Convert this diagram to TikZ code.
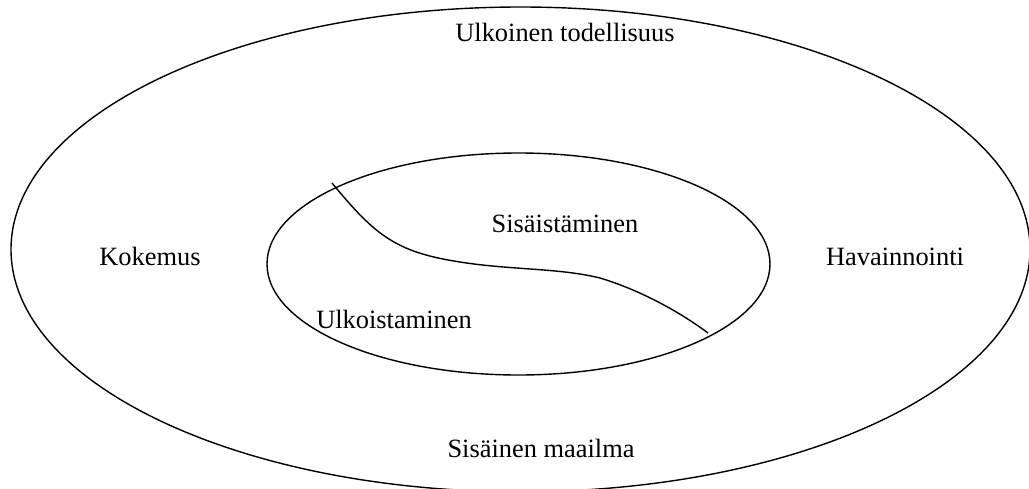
\documentclass[tikz,border=0pt]{standalone}
\usepackage{fontspec}
\setmainfont{Liberation Serif}
\begin{document}
\begin{tikzpicture}[x=1pt,y=-1pt,
  ring/.style={draw=black,line width=1.4pt},
  lbl/.style={font=\fontsize{26.4}{30}\selectfont,anchor=base,inner sep=0pt}]
\useasboundingbox (0,0) rectangle (1029,488);
% outer and inner regions
\draw[ring] (520.5,249.4) ellipse [x radius=509.5, y radius=242.4];
\draw[ring] (518.5,264) ellipse [x radius=251.5, y radius=111];
% dividing line inside the inner region
\coordinate (cs) at (332,183);
\coordinate (ce) at (708,333);
\draw[ring] (cs) .. controls (375,235) and (395,252) .. (460,262)
  .. controls (510,270) and (560,268) .. (600,278)
  .. controls (640,290) and (680,312) .. (ce);
% labels
\node[lbl] (ut) at (565,41) {Ulkoinen todellisuus};
\node[lbl] (sm) at (541,457) {Sisäinen maailma};
\node[lbl] (ko) at (150,265) {Kokemus};
\node[lbl] (ha) at (895,265) {Havainnointi};
\node[lbl] (si) at (565,232) {Sisäistäminen};
\node[lbl] (ul) at (394,328) {Ulkoistaminen};
\end{tikzpicture}
\end{document}
